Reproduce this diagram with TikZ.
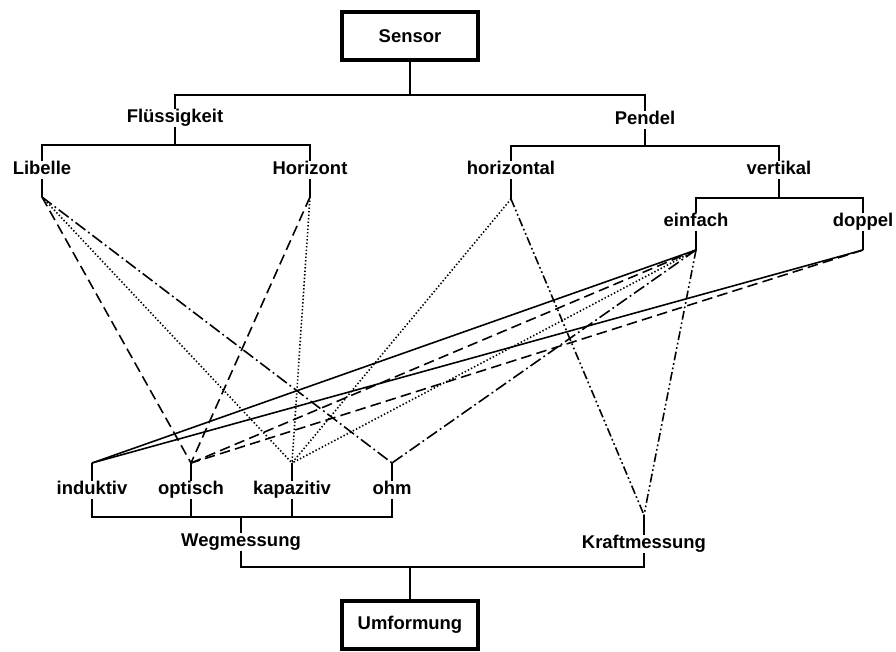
\documentclass[tikz,border=0pt]{standalone}
\usepackage{fontspec}
\setmainfont{Liberation Sans}

\tikzset{
  lbl/.style = {inner xsep=1pt, inner ysep=0pt, text height=7.6pt, text depth=2.2pt, font=\bfseries\fontsize{10.5}{12}\selectfont},
  blk/.style = {rectangle, draw=black, line width=2.2pt, minimum width=2.72cm, minimum height=0.96cm, font=\bfseries\fontsize{10.5}{12}\selectfont},
  tree/.style = {line width=0.85pt},
  wire/.style = {line width=0.9pt},
  solidwire/.style = {wire},
  dashwire/.style = {wire, dash pattern=on 6pt off 3pt},
  dotwire/.style = {wire, dash pattern=on 0.8pt off 1.2pt},
  dashdotwire/.style = {wire, dash pattern=on 7pt off 2pt on 1pt off 2pt},
  dashdotdotwire/.style = {wire, dash pattern=on 5pt off 1.6pt on 1pt off 1.6pt on 1pt off 1.6pt}
}

\begin{document}
\begin{tikzpicture}[x=0.02cm, y=-0.02cm]

\useasboundingbox (0,0) rectangle (896,652);

\node (sensor) [blk] at (410,36) {Sensor};
\node (flu) [lbl] at (175,118) {Flüssigkeit};
\node (pen) [lbl] at (645,120) {Pendel};
\node (lib) [lbl] at (42,170) {Libelle};
\node (hor) [lbl] at (310,170) {Horizont};
\node (hz) [lbl] at (511,170) {horizontal};
\node (vert) [lbl] at (779,170) {vertikal};
\node (einf) [lbl] at (696,222) {einfach};
\node (dop) [lbl] at (863,222) {doppel};
\node (ind) [lbl] at (92,490) {induktiv};
\node (opt) [lbl] at (191,490) {optisch};
\node (kap) [lbl] at (292,490) {kapazitiv};
\node (ohm) [lbl] at (392,490) {ohm};
\node (weg) [lbl] at (241,542) {Wegmessung};
\node (kraft) [lbl] at (644,544) {Kraftmessung};
\node (umf) [blk] at (410,625) {Umformung};

\coordinate (bar1) at (410,95);
\coordinate (bar2) at (175,145);
\coordinate (bar3) at (645,146);
\coordinate (bar4) at (779,198);
\coordinate (bar5) at (241,517);
\coordinate (bar6) at (410,567);

\coordinate (lib-j) at (42,197);
\coordinate (hor-j) at (310,197);
\coordinate (hz-j) at (511,199);
\coordinate (einf-j) at (696,250);
\coordinate (dop-j) at (863,250);
\coordinate (ind-j) at (92,463);
\coordinate (opt-j) at (191,463);
\coordinate (kap-j) at (292,463);
\coordinate (ohm-j) at (392,463);
\coordinate (kraft-j) at (644,515);

\draw [tree] (sensor.south) -- (bar1) (flu.north) |- (bar1) -| (pen.north);
\draw [tree] (flu.south) -- (bar2) (lib.north) |- (bar2) -| (hor.north);
\draw [tree] (pen.south) -- (bar3) (hz.north) |- (bar3) -| (vert.north);
\draw [tree] (vert.south) -- (bar4) (einf.north) |- (bar4) -| (dop.north);
\draw [tree] (lib.south) -- (lib-j) (hor.south) -- (hor-j) (hz.south) -- (hz-j);
\draw [tree] (einf.south) -- (einf-j) (dop.south) -- (dop-j);
\draw [tree] (ind.north) -- (ind-j) (opt.north) -- (opt-j) (kap.north) -- (kap-j) (ohm.north) -- (ohm-j);
\draw [tree] (kraft.north) -- (kraft-j);
\draw [tree] (ind.south) |- (bar5) -| (ohm.south) (opt.south) -- (opt.south |- bar5) (kap.south) -- (kap.south |- bar5) (weg.north) -- (bar5);
\draw [tree] (weg.south) |- (bar6) -| (kraft.south) (umf.north) -- (bar6);

\draw [dashwire] (lib-j) -- (opt-j);
\draw [dotwire] (lib-j) -- (kap-j);
\draw [dashdotwire] (lib-j) -- (ohm-j);
\draw [dashwire] (hor-j) -- (opt-j);
\draw [dotwire] (hor-j) -- (kap-j);
\draw [dotwire] (hz-j) -- (kap-j);
\draw [dashdotdotwire] (hz-j) -- (kraft-j);
\draw [solidwire] (einf-j) -- (ind-j);
\draw [dashwire] (einf-j) -- (opt-j);
\draw [dotwire] (einf-j) -- (kap-j);
\draw [dashdotwire] (einf-j) -- (ohm-j);
\draw [dashdotdotwire] (einf-j) -- (kraft-j);
\draw [solidwire] (dop-j) -- (ind-j);
\draw [dashwire] (dop-j) -- (opt-j);

\end{tikzpicture}
\end{document}
